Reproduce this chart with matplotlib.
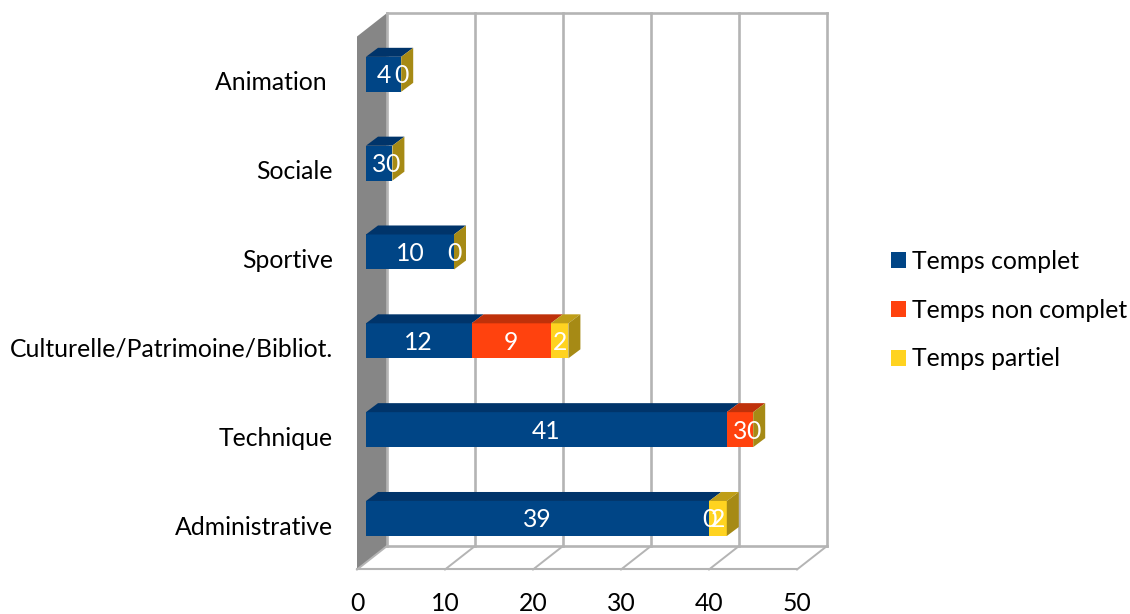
import matplotlib
matplotlib.use("Agg")
import matplotlib.pyplot as plt
from matplotlib.patches import Patch

plt.rcParams['font.family'] = ['Lato', 'DejaVu Sans']

categories = ['Administrative', 'Technique', 'Culturelle/Patrimoine/Bibliot.', 'Sportive', 'Sociale', 'Animation ']
series_names = ['Temps complet', 'Temps non complet', 'Temps partiel']
# None = no label in the picture
complet = [39, 41, 12, 10, 3, 4]
non_complet = [0, 3, 9, None, None, None]
partiel = [2, 0, 2, 0, 0, 0]
x_ticks = [0, 10, 20, 30, 40, 50]

front = ['#004586', '#FF420E', '#FFD320']
top = ['#00346A', '#BF310A', '#BF9E18']
side = '#A68A15'
grid_col = '#B4B4B4'
wall_col = '#868686'
W, H = 1130, 614
FS = 17.8

fig = plt.figure(figsize=(W / 100, H / 100), dpi=100)
left, right, y_top, y_bot = 357, 797, 36.5, 569.5
ax = fig.add_axes([left / W, 1 - y_bot / H, (right - left) / W, (y_bot - y_top) / H])
ax.set_xlim(0, 50)
ax.set_ylim(-0.5, 5.5)
for s in ax.spines.values():
    s.set_visible(False)

# pixels to data units
ux = 50 / (right - left)
uy = 6 / (y_bot - y_top)
wall_dx, wall_dy = 30 * ux, 23.5 * uy
bar_x0, bar_dy = 9 * ux, 6.6 * uy
bar_h = 35 * uy
dep_x, dep_y = 12 * ux, 9 * uy

ax.fill([0, wall_dx, wall_dx, 0], [-0.5, -0.5 + wall_dy, 5.5 + wall_dy, 5.5],
        color=wall_col, lw=0, clip_on=False, zorder=1)
line_kw = dict(color=grid_col, clip_on=False, zorder=2, solid_capstyle='projecting')
for t in x_ticks:
    ax.plot([t + wall_dx, t + wall_dx], [-0.5 + wall_dy, 5.5 + wall_dy], lw=1.9, **line_kw)
    ax.plot([t, t + wall_dx], [-0.5, -0.5 + wall_dy], lw=1.4, **line_kw)
ax.plot([0, 50], [-0.5, -0.5], lw=1.5, **line_kw)
ax.plot([wall_dx, 50 + wall_dx], [-0.5 + wall_dy] * 2, lw=1.9, **line_kw)
ax.plot([wall_dx, 50 + wall_dx], [5.5 + wall_dy] * 2, lw=1.9, **line_kw)

for i in range(len(categories)):
    y0 = i + bar_dy - bar_h / 2
    y1 = y0 + bar_h
    start = bar_x0
    for j, vals in enumerate([complet, non_complet, partiel]):
        v = vals[i]
        if v is None:
            continue
        end = start + v
        if v > 0:
            ax.fill([start, end, end, start], [y0, y0, y1, y1], color=front[j], lw=0, zorder=3, clip_on=False)
            ax.fill([start, end, end + dep_x, start + dep_x], [y1, y1, y1 + dep_y, y1 + dep_y],
                    color=top[j], lw=0, zorder=3, clip_on=False)
        ax.text((start + end) / 2, (y0 + y1) / 2 - 1.5 * uy, str(v), color='white', fontsize=FS,
                ha='center', va='center', zorder=5)
        start = end
    ax.fill([start, start + dep_x, start + dep_x, start],
            [y0, y0 + dep_y, y1 + dep_y, y1], color=side, lw=0, zorder=4, clip_on=False)

ax.set_xticks(x_ticks)
ax.set_yticks(range(len(categories)))
ax.set_yticklabels(categories)
ax.tick_params(axis='x', length=0, pad=16, labelsize=FS, labelcolor='black')
ax.tick_params(axis='y', length=0, pad=17.5, labelsize=FS, labelcolor='black')

handles = [Patch(color=c, lw=0) for c in front]
fig.legend(handles, series_names, loc='upper left', bbox_to_anchor=(891 / W, 1 - 250 / H),
           frameon=False, fontsize=FS, handlelength=0.61, handleheight=0.61,
           handletextpad=0.25, labelspacing=1.04, borderpad=0, borderaxespad=0)

fig.savefig('out.png', dpi=100)
